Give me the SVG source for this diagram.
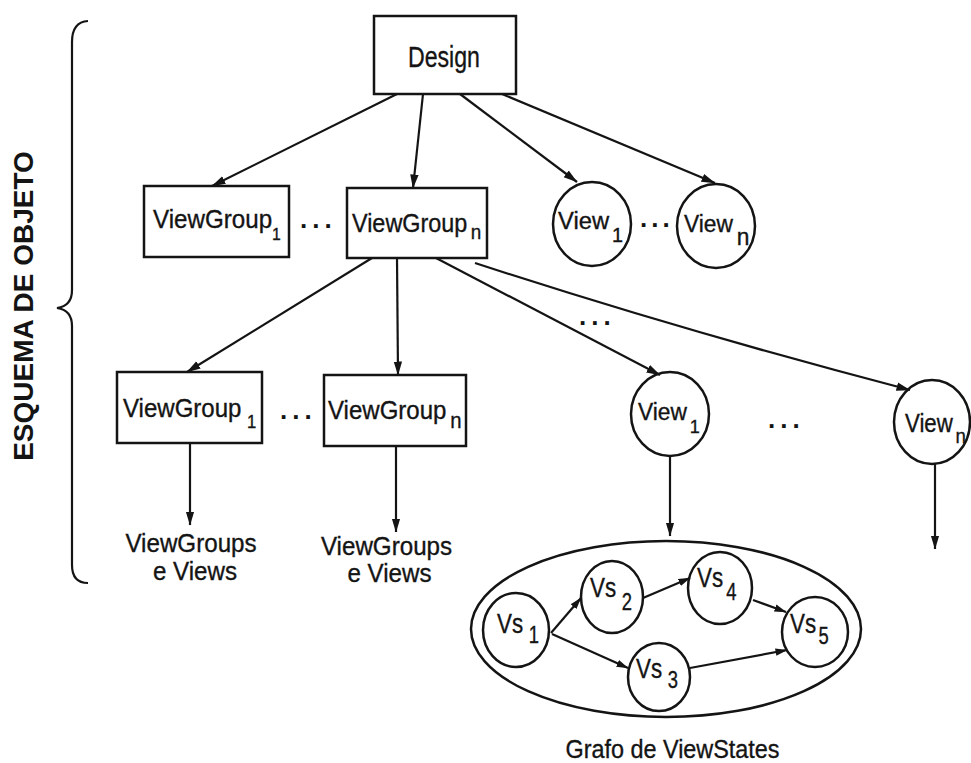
<svg xmlns="http://www.w3.org/2000/svg" width="971" height="763" viewBox="0 0 971 763">
<defs>
<style>
.shape{fill:none;stroke:#141414;stroke-width:2.5}
.edge{fill:none;stroke:#141414;stroke-width:2.2}
.t{font-family:"Liberation Sans",Arial,sans-serif;fill:#141414;stroke:#141414;stroke-width:0.35;font-size:26px}
.dots{font-family:"Liberation Sans",Arial,sans-serif;fill:#141414;font-size:26px;font-weight:bold;letter-spacing:5px}
</style>
<marker id="arr" markerUnits="userSpaceOnUse" markerWidth="14" markerHeight="10" viewBox="0 0 14 10" refX="13.5" refY="5" orient="auto">
<path d="M0,0.8 L14,5 L0,9.2 z" fill="#141414"/>
</marker>
<marker id="arrs" markerUnits="userSpaceOnUse" markerWidth="12" markerHeight="9" viewBox="0 0 12 9" refX="11.5" refY="4.5" orient="auto">
<path d="M0,0.8 L12,4.5 L0,8.2 z" fill="#141414"/>
</marker>
</defs>
<rect width="971" height="763" fill="#ffffff"/>

<g id="brace">
<path class="edge" d="M88,21 Q72,22 72,42 L72,290 Q72,306 57,308 Q72,310 72,326 L72,565 Q72,583 88,583"/>
<text class="t" transform="translate(33,306) rotate(-90)" text-anchor="middle" font-weight="bold" style="font-size:28px;stroke-width:0">ESQUEMA DE OBJETO</text>
</g>

<g id="connectors">
<line class="edge" x1="397" y1="94" x2="212" y2="186" marker-end="url(#arr)"/>
<line class="edge" x1="423" y1="94" x2="413" y2="188" marker-end="url(#arr)"/>
<line class="edge" x1="460" y1="94" x2="577" y2="182" marker-end="url(#arr)"/>
<line class="edge" x1="502" y1="94" x2="715" y2="183" marker-end="url(#arr)"/>
<line class="edge" x1="372" y1="258" x2="187" y2="372" marker-end="url(#arr)"/>
<line class="edge" x1="397" y1="258" x2="398" y2="375" marker-end="url(#arr)"/>
<line class="edge" x1="436" y1="258" x2="660" y2="375" marker-end="url(#arr)"/>
<path class="edge" d="M475,263 Q680,330 910,390" marker-end="url(#arr)"/>
<line class="edge" x1="190" y1="443" x2="190" y2="525" marker-end="url(#arr)"/>
<line class="edge" x1="396" y1="446" x2="396" y2="532" marker-end="url(#arr)"/>
<line class="edge" x1="670" y1="456" x2="670" y2="536" marker-end="url(#arr)"/>
<line class="edge" x1="935" y1="464" x2="935" y2="549" marker-end="url(#arr)"/>
<line class="edge" x1="551" y1="633" x2="581" y2="598" marker-end="url(#arrs)"/>
<line class="edge" x1="552" y1="634" x2="628" y2="668" marker-end="url(#arrs)"/>
<line class="edge" x1="643" y1="598" x2="690" y2="578" marker-end="url(#arrs)"/>
<line class="edge" x1="753" y1="600" x2="786" y2="612" marker-end="url(#arrs)"/>
<line class="edge" x1="690" y1="668" x2="787" y2="650" marker-end="url(#arrs)"/>
</g>

<g id="design">
<rect class="shape" x="374" y="16" width="142" height="78"/>
<text class="t" transform="translate(408,67) scale(0.77,1)" style="font-size:30px">Design</text>
</g>

<g id="viewgroup1-a">
<rect class="shape" x="144" y="186" width="145" height="71"/>
<text class="t" transform="translate(153,228) scale(0.93,1)">ViewGroup<tspan dy="12" style="font-size:17px">1</tspan></text>
</g>
<text class="dots" x="300" y="228">...</text>

<g id="viewgroupn-a">
<rect class="shape" x="347" y="188" width="140" height="70"/>
<text class="t" transform="translate(352,232) scale(0.9,1)">ViewGroup<tspan dx="4" dy="7" style="font-size:21px">n</tspan></text>
</g>

<g id="view1-a">
<ellipse class="shape" cx="592" cy="224" rx="39" ry="42"/>
<text class="t" transform="translate(558,229) scale(0.99,1)" style="font-size:24px">View<tspan dx="3" dy="13" style="font-size:20px">1</tspan></text>
</g>
<text class="dots" x="640" y="227" style="letter-spacing:4px">...</text>

<g id="viewn-a">
<ellipse class="shape" cx="716" cy="226" rx="39" ry="42"/>
<text class="t" transform="translate(684,232) scale(0.95,1)" style="font-size:24px">View<tspan dx="4" dy="13" style="font-size:24px">n</tspan></text>
</g>

<text class="dots" x="579" y="325">...</text>

<g id="viewgroup1-b">
<rect class="shape" x="117" y="372" width="145" height="71"/>
<text class="t" transform="translate(123,417) scale(0.925,1)">ViewGroup<tspan dx="6" dy="11" style="font-size:18px">1</tspan></text>
</g>
<text class="dots" x="280" y="419">...</text>

<g id="viewgroupn-b">
<rect class="shape" x="324" y="375" width="142" height="71"/>
<text class="t" transform="translate(328,419) scale(0.925,1)">ViewGroup<tspan dx="4" dy="9" style="font-size:22px">n</tspan></text>
</g>

<g id="view1-b">
<ellipse class="shape" cx="670" cy="414" rx="39" ry="42"/>
<text class="t" transform="translate(638,420) scale(0.95,1)" style="font-size:24px">View<tspan dx="3" dy="13" style="font-size:19px">1</tspan></text>
</g>
<text class="dots" x="768" y="428">...</text>

<g id="viewn-b">
<ellipse class="shape" cx="932" cy="422" rx="38" ry="42"/>
<text class="t" transform="translate(905,432) scale(0.89,1)" style="font-size:25px">View<tspan dx="3" dy="11" style="font-size:21px">n</tspan></text>
</g>

<g id="children1">
<text class="t" transform="translate(191,552) scale(0.93,1)" text-anchor="middle">ViewGroups</text>
<text class="t" transform="translate(195,580) scale(0.93,1)" text-anchor="middle">e Views</text>
</g>
<g id="childrenn">
<text class="t" transform="translate(386.5,555) scale(0.93,1)" text-anchor="middle">ViewGroups</text>
<text class="t" transform="translate(389.5,582) scale(0.93,1)" text-anchor="middle">e Views</text>
</g>

<g id="viewstate-graph">
<ellipse class="shape" cx="666" cy="629" rx="195" ry="88"/>
<text class="t" transform="translate(672.5,758) scale(0.9,1)" text-anchor="middle">Grafo de ViewStates</text>
</g>
<g id="vs1">
<ellipse class="shape" cx="516" cy="630" rx="33" ry="37"/>
<text class="t" transform="translate(497,633) scale(0.8,1)" style="font-size:28px">Vs<tspan dx="7" dy="10" style="font-size:23px">1</tspan></text>
</g>
<g id="vs2">
<ellipse class="shape" cx="612" cy="597" rx="31" ry="36"/>
<text class="t" transform="translate(590,597) scale(0.8,1)" style="font-size:28px">Vs<tspan dx="7" dy="13" style="font-size:23px">2</tspan></text>
</g>
<g id="vs4">
<ellipse class="shape" cx="720" cy="588" rx="32" ry="36"/>
<text class="t" transform="translate(697,587) scale(0.8,1)" style="font-size:28px">Vs<tspan dx="4" dy="13" style="font-size:23px">4</tspan></text>
</g>
<g id="vs5">
<ellipse class="shape" cx="815" cy="632" rx="33" ry="35"/>
<text class="t" transform="translate(790,633) scale(0.8,1)" style="font-size:28px">Vs<tspan dx="3" dy="11" style="font-size:23px">5</tspan></text>
</g>
<g id="vs3">
<ellipse class="shape" cx="659" cy="677" rx="31" ry="34"/>
<text class="t" transform="translate(636,678) scale(0.8,1)" style="font-size:28px">Vs<tspan dx="7" dy="10" style="font-size:23px">3</tspan></text>
</g>
</svg>
